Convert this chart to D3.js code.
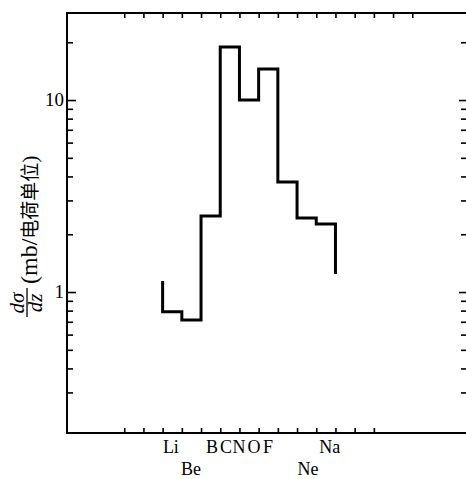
<!DOCTYPE html>
<html><head><meta charset="utf-8">
<script src="https://cdn.jsdelivr.net/npm/d3@7"></script>
<style>body{margin:0;background:#fff}svg{display:block}</style>
</head><body>
<script>
// ---- data ----
const elements   = ["Li","Be","B","C","N","O","F","Ne","Na"];
const binStartZ  = [3, 4, 5, 6, 7, 8, 9, 10, 11];
const dsigma     = [0.79, 0.715, 2.49, 18.9, 10.0, 14.5, 3.74, 2.43, 2.26];
const edgeStartValue = 1.14;   // left edge of the outline starts here
const edgeEndValue   = 1.24;   // right edge of the outline ends here
const labelRow1  = ["Li","B","C","N","O","F","Na"];
const labelRow1Z = [3.43, 5.57, 6.3, 6.98, 7.76, 8.49, 11.7];
const labelRow2  = ["Be","Ne"];
const labelRow2Z = [4.48, 10.57];
const yMajor = [1, 10];
const yMinor = [0.3,0.4,0.5,0.6,0.7,0.8,0.9,2,3,4,5,6,7,8,9,20];
const xTopTicks = d3.range(1, 17);
const xBottomTicks = d3.range(1, 15);

// ---- layout ----
const W = 466, H = 479;
const PL = 67, PR = 467, PT = 13, PB = 433;
const svg = d3.select("body").append("svg").attr("width", W).attr("height", H);

const x = d3.scaleLinear().domain([-1.98, 18.85]).range([PL, PR]);
const y = d3.scaleLog().domain([0.1844, 28.4]).range([PB, PT]);

const serif = "'Liberation Serif','DejaVu Serif',serif";

// frame
svg.append("path")
  .attr("d", `M${PR},${PT}H${PL}V${PB}H${W}`)
  .attr("fill", "none").attr("stroke", "#000").attr("stroke-width", 2);

// axes with inward ticks
const gLeft = svg.append("g").attr("transform", `translate(${PL},0)`);
gLeft.call(d3.axisRight(y).tickValues(yMajor).tickSize(9).tickFormat(""));
gLeft.append("g").call(d3.axisRight(y).tickValues(yMinor).tickSize(6).tickFormat(""));
const gRight = svg.append("g").attr("transform", `translate(${PR},0)`);
gRight.call(d3.axisLeft(y).tickValues(yMajor).tickSize(8).tickFormat(""));
gRight.append("g").call(d3.axisLeft(y).tickValues(yMinor).tickSize(6).tickFormat(""));
const gTop = svg.append("g").attr("transform", `translate(0,${PT})`);
gTop.call(d3.axisBottom(x).tickValues(xTopTicks).tickSize(5).tickFormat(""));
const gBot = svg.append("g").attr("transform", `translate(0,${PB})`);
gBot.call(d3.axisTop(x).tickValues(xBottomTicks).tickSize(5).tickFormat(""));
svg.selectAll(".domain").remove();
svg.selectAll(".tick line").attr("stroke", "#000").attr("stroke-width", 1.6);

// y tick labels
svg.selectAll("text.ylab").data(yMajor).enter().append("text")
  .attr("class", "ylab")
  .attr("x", PL - 3).attr("y", d => y(d) + 6)
  .attr("text-anchor", "end")
  .attr("font-family", serif).attr("font-size", 19)
  .text(d => d);

// histogram outline
const pts = [[binStartZ[0], edgeStartValue]];
binStartZ.forEach((z, i) => { pts.push([z, dsigma[i]]); pts.push([z + 1, dsigma[i]]); });
pts.push([binStartZ[binStartZ.length - 1] + 1, edgeEndValue]);
svg.append("path")
  .attr("d", d3.line().x(d => x(d[0])).y(d => y(d[1]))(pts))
  .attr("fill", "none").attr("stroke", "#000").attr("stroke-width", 3)
  .attr("stroke-linejoin", "miter");

// x labels
svg.selectAll("text.r1").data(labelRow1).enter().append("text")
  .attr("class", "r1")
  .attr("x", (d, i) => x(labelRow1Z[i])).attr("y", 453)
  .attr("text-anchor", "middle")
  .attr("font-family", serif).attr("font-size", 18)
  .text(d => d);
svg.selectAll("text.r2").data(labelRow2).enter().append("text")
  .attr("class", "r2")
  .attr("x", (d, i) => x(labelRow2Z[i])).attr("y", 475)
  .attr("text-anchor", "middle")
  .attr("font-family", serif).attr("font-size", 18)
  .text(d => d);

// y axis title (rotated)
const gt = svg.append("g").attr("transform", "translate(27,318) rotate(-90)");
gt.append("text").attr("x", 15).attr("y", -3).attr("text-anchor", "middle")
  .attr("font-family", serif).attr("font-style", "italic").attr("font-size", 21).text("dσ");
gt.append("line").attr("x1", 1).attr("x2", 30).attr("y1", 0).attr("y2", 0)
  .attr("stroke", "#000").attr("stroke-width", 1.3);
gt.append("text").attr("x", 15).attr("y", 15).attr("text-anchor", "middle")
  .attr("font-family", serif).attr("font-style", "italic").attr("font-size", 21).text("dz");
const tt = gt.append("text").attr("x", 34).attr("y", 10);
tt.append("tspan").attr("font-family", serif).attr("font-size", 24).text("(mb/");
tt.append("tspan").attr("font-family", "'Noto Sans CJK SC'").attr("font-size", 19).text("电荷单位");
tt.append("tspan").attr("font-family", serif).attr("font-size", 22).text(")");
</script>
</body></html>
